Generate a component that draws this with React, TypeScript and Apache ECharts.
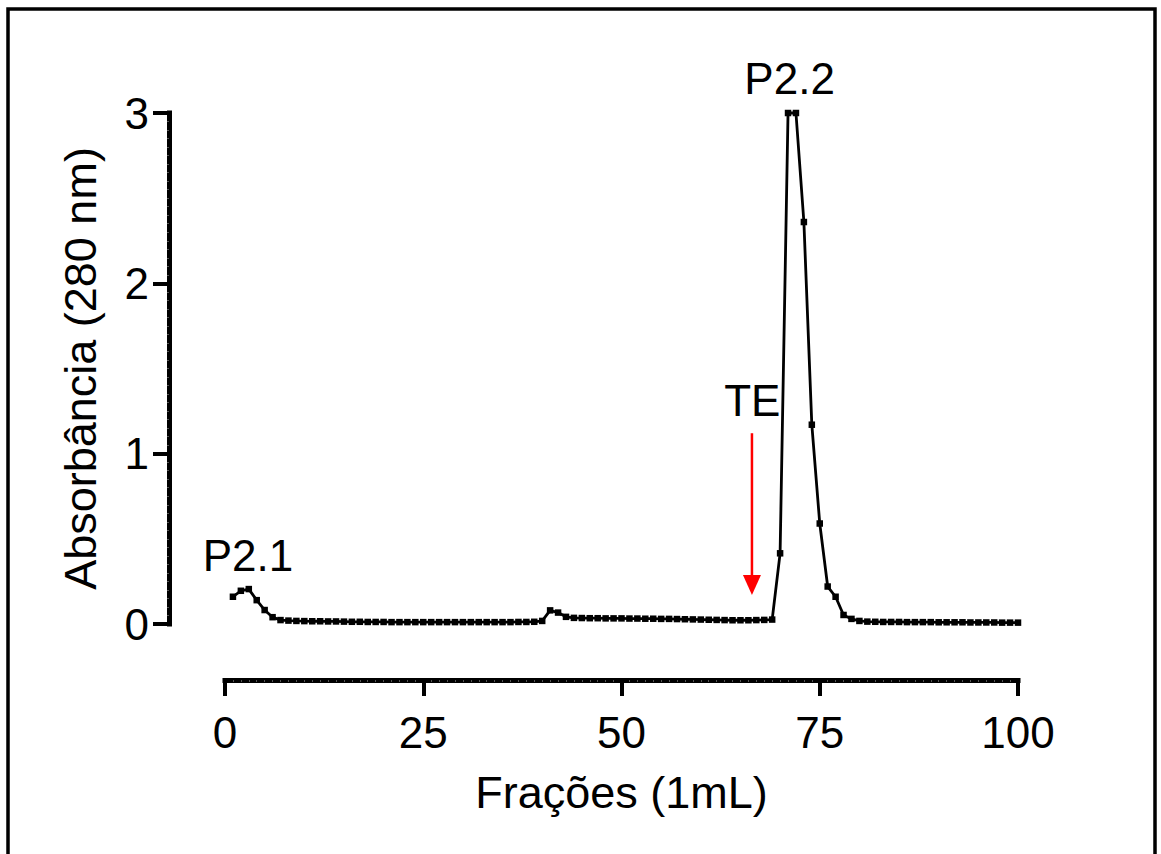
import React, { useEffect, useRef } from "react";
import * as echarts from "echarts";

// Absorbance (280 nm) for fractions 1..100
const absorbance: number[] = [
  0.16, 0.195, 0.205, 0.14, 0.082, 0.04, 0.023, 0.02, 0.018, 0.017,
  0.016, 0.016, 0.015, 0.015, 0.014, 0.013, 0.013, 0.012, 0.012, 0.012,
  0.011, 0.011, 0.011, 0.011, 0.011, 0.011, 0.011, 0.011, 0.011, 0.011,
  0.011, 0.011, 0.011, 0.011, 0.011, 0.011, 0.012, 0.012, 0.013, 0.018,
  0.08, 0.067, 0.042, 0.036, 0.035, 0.034, 0.034, 0.033, 0.033, 0.033,
  0.032, 0.032, 0.031, 0.031, 0.03, 0.03, 0.029, 0.028, 0.027, 0.026,
  0.025, 0.024, 0.023, 0.022, 0.022, 0.022, 0.023, 0.024, 0.026, 0.415,
  3.0, 3.0, 2.36, 1.17, 0.59, 0.22, 0.16, 0.053, 0.03, 0.018,
  0.014, 0.013, 0.012, 0.012, 0.012, 0.011, 0.011, 0.011, 0.011, 0.01,
  0.01, 0.01, 0.01, 0.009, 0.009, 0.009, 0.009, 0.008, 0.008, 0.008,
];

const xTicks = { min: 0, max: 100, interval: 25 };
const yTicks = { min: 0, max: 3, interval: 1 };

const xTitle = "Frações (1mL)";
const yTitle = "Absorbância (280 nm)";

const annotations = [
  { text: "P2.1", x: 2.9, y: 0.4 },
  { text: "P2.2", x: 71.2, y: 3.2 },
  { text: "TE", x: 66.5, y: 1.315 },
];
const arrow = { x: 66.45, yTop: 1.12, yTip: 0.17 };

const FONT = "Liberation Sans, Arial, sans-serif";

export default function App() {
  const ref = useRef<HTMLDivElement>(null);
  useEffect(() => {
    if (!ref.current) return;
    const chart = echarts.init(ref.current, null, { renderer: "svg" });
    const axisCommon = {
      type: "value" as const,
      offset: 56,
      splitLine: { show: false },
      axisLine: { show: true, onZero: false, lineStyle: { color: "#000", width: 5, cap: "square" } },
      axisTick: { show: true, length: 16, lineStyle: { color: "#000", width: 4 } },
      minorTick: { show: true, length: 2, lineStyle: { color: "#555", width: 1 } },
      nameLocation: "middle" as const,
      nameTextStyle: { color: "#000", fontSize: 45, fontFamily: FONT },
    };
    chart.setOption({
      animation: false,
      backgroundColor: "#fff",
      grid: { left: 225, right: 143, top: 113, bottom: 230, containLabel: false },
      xAxis: {
        ...axisCommon,
        min: xTicks.min,
        max: xTicks.max,
        interval: xTicks.interval,
        minorTick: { ...axisCommon.minorTick, splitNumber: 25 },
        axisLabel: { color: "#000", fontSize: 44, fontFamily: FONT, margin: 30 },
        name: xTitle,
        nameGap: 90,
      },
      yAxis: {
        ...axisCommon,
        min: yTicks.min,
        max: yTicks.max,
        interval: yTicks.interval,
        minorTick: { ...axisCommon.minorTick, splitNumber: 20 },
        axisLabel: { color: "#000", fontSize: 44, fontFamily: FONT, margin: 20 },
        name: yTitle,
        nameGap: 66,
      },
      series: [
        {
          type: "line",
          data: absorbance.map((v, i) => [i + 1, v]),
          symbol: "rect",
          symbolSize: 6.5,
          clip: false,
          lineStyle: { color: "#000", width: 2.8 },
          itemStyle: { color: "#000" },
        },
      ],
    });

    const px = (x: number, y: number) => chart.convertToPixel({ gridIndex: 0 }, [x, y]) as number[];
    const texts = annotations.map((a) => {
      const p = px(a.x, a.y);
      return {
        type: "text",
        x: p[0],
        y: p[1],
        style: {
          text: a.text,
          fill: "#000",
          fontSize: 44,
          fontFamily: FONT,
          align: "center",
          verticalAlign: "middle",
        },
      };
    });
    const top = px(arrow.x, arrow.yTop);
    const tip = px(arrow.x, arrow.yTip);
    chart.setOption({
      graphic: [
        {
          type: "polyline",
          shape: { points: [[8, 860], [8, 9], [1155, 9], [1155, 860]] },
          style: { stroke: "#000", lineWidth: 3.5, fill: null },
        },
        ...texts,
        {
          type: "line",
          shape: { x1: top[0], y1: top[1], x2: tip[0], y2: tip[1] - 18 },
          style: { stroke: "#ff0000", lineWidth: 2.5 },
        },
        {
          type: "polygon",
          shape: { points: [[tip[0] - 9, tip[1] - 20], [tip[0] + 9, tip[1] - 20], [tip[0], tip[1]]] },
          style: { fill: "#ff0000" },
        },
      ],
    });
    return () => chart.dispose();
  }, []);
  return (
    <div
      ref={ref}
      style={{ position: "fixed", left: 0, top: 0, width: 1161, height: 854, background: "#fff" }}
    />
  );
}
